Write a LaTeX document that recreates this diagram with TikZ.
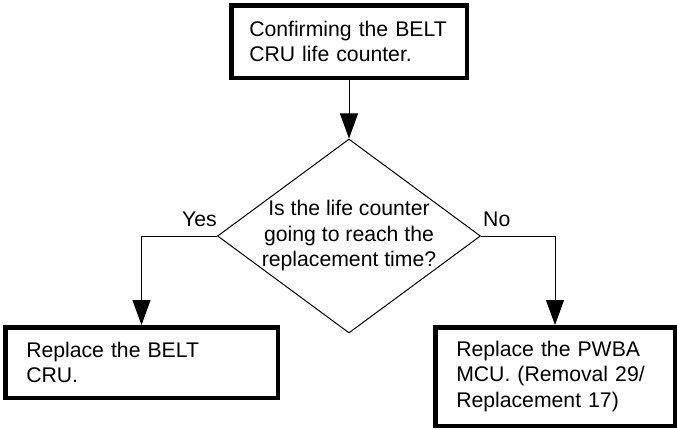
\documentclass[tikz,border=0pt]{standalone}
\usepackage{fontspec}
\setmainfont{Liberation Sans}
\usetikzlibrary{arrows.meta, shapes.geometric}

\begin{document}
\begin{tikzpicture}[x=1pt, y=-1pt,
  txt/.style={font=\fontsize{21.2}{25.5}\selectfont},
  stepbox/.style={txt, draw, line width=4.5pt, align=left, inner xsep=21pt, inner ysep=0pt},
  link/.style={line width=1pt, -{Triangle[length=25pt, width=18pt]}}]
  \useasboundingbox (0,0) rectangle (677,429);

  \node[stepbox, inner xsep=18pt, text width=199.5pt, minimum height=72.5pt] (check) at (349,41.5) {Confirming the BELT\\CRU life counter.};

  \node[draw, shape=diamond, line width=1pt, minimum width=263pt, minimum height=194pt, inner sep=0pt] (ask) at (349,236) {};
  \node[txt, align=center, inner sep=0pt] (asktext) at (ask.center) {Is the life counter\\going to reach the\\replacement time?};

  \node[stepbox, text width=230.5pt, minimum height=70.5pt] (belt) at (141.5,362.5) {Replace the BELT\\CRU.};
  \node[stepbox, text width=197.5pt, minimum height=98.5pt] (pwba) at (555,376.5) {Replace the PWBA\\MCU. (Removal 29/\\Replacement 17)};

  \draw[link] (check) -- (ask);
  \draw[link] (ask.west) -| (belt.north);
  \draw[link] (ask.east) -| (pwba.north);

  \node[txt, anchor=base east, inner sep=0pt] (yes) at ([yshift=10pt]ask.west) {Yes};
  \node[txt, anchor=base west, inner sep=0pt] (no) at ([xshift=2pt, yshift=10pt]ask.east) {No};
\end{tikzpicture}
\end{document}
